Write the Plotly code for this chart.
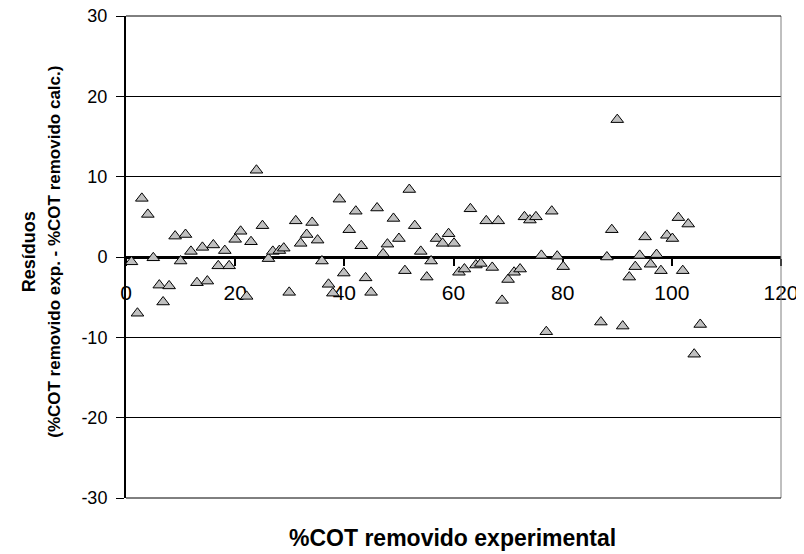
import plotly.graph_objects as go

# %COT removido experimental (x) and residuals (y)
cot_exp = [1.0, 2.1, 2.9, 4.0, 5.0, 6.1, 6.8, 7.9, 9.0, 10.0,
           10.9, 11.9, 13.0, 14.0, 14.9, 16.0, 16.9, 18.1, 18.9, 20.0,
           21.0, 22.1, 22.9, 23.9, 25.0, 26.1, 26.9, 28.1, 28.9, 29.9,
           31.1, 32.0, 33.1, 34.1, 35.1, 35.9, 37.1, 37.9, 39.1, 39.9,
           40.9, 42.1, 43.1, 43.9, 44.9, 46.0, 47.1, 47.9, 49.0, 50.0,
           51.1, 51.9, 52.9, 54.0, 55.1, 55.9, 56.9, 58.0, 59.1, 60.1,
           61.0, 62.0, 63.1, 64.1, 65.0, 66.0, 67.1, 68.2, 68.9, 70.0,
           71.1, 72.2, 73.0, 74.0, 75.1, 76.1, 77.0, 78.0, 79.0, 80.1,
           87.0, 88.1, 89.0, 90.0, 91.0, 92.2, 93.3, 94.1, 95.1, 96.1,
           97.2, 98.0, 99.1, 100.1, 101.2, 102.0, 103.0, 104.1, 105.2]
residuos = [-0.6, -7.0, 7.3, 5.3, -0.1, -3.5, -5.6, -3.6, 2.6, -0.5,
            2.8, 0.7, -3.2, 1.2, -3.0, 1.5, -1.1, 0.8, -1.1, 2.2,
            3.2, -4.9, 1.9, 10.8, 3.9, -0.2, 0.7, 0.8, 1.1, -4.4,
            4.5, 1.7, 2.8, 4.3, 2.1, -0.5, -3.4, -4.5, 7.2, -2.0,
            3.4, 5.7, 1.4, -2.6, -4.4, 6.1, 0.4, 1.6, 4.8, 2.3,
            -1.7, 8.4, 3.9, 0.7, -2.5, -0.5, 2.3, 1.7, 2.9, 1.7,
            -1.9, -1.5, 6.0, -1.0, -0.8, 4.5, -1.3, 4.5, -5.4, -2.8,
            -1.9, -1.5, 5.0, 4.6, 5.0, 0.2, -9.3, 5.7, 0.1, -1.2,
            -8.1, 0.0, 3.4, 17.1, -8.6, -2.5, -1.2, 0.2, 2.5, -0.9,
            0.3, -1.7, 2.7, 2.3, 4.9, -1.7, 4.1, -12.1, -8.4]

x_ticks = [0, 20, 40, 60, 80, 100, 120]
y_ticks = [-30, -20, -10, 0, 10, 20, 30]
y_tick_text = ["-30", "-20", "-10", "0", "10", "20", "30"]

font = "Liberation Sans, Arial, sans-serif"

fig = go.Figure()
fig.add_trace(go.Scatter(
    x=cot_exp, y=residuos, mode="markers",
    marker=dict(symbol="triangle-up", size=11, color="#c0c0c0",
                line=dict(color="black", width=1)),
    showlegend=False,
))

# page body has an 8px margin, so the figure is 8px smaller and shifted
fig.update_layout(
    width=796, height=546,
    margin=dict(l=118, r=23, t=8, b=56),
    paper_bgcolor="white", plot_bgcolor="white",
    font=dict(family=font, color="black"),
    xaxis=dict(
        range=[0, 120], tickmode="array", tickvals=x_ticks,
        ticktext=[str(v) for v in x_ticks],
        anchor="free", position=0.5, automargin=False,
        showgrid=False, zeroline=False,
        showline=True, linecolor="black", linewidth=3,
        ticks="outside", ticklen=7, tickwidth=2, tickcolor="black",
        ticklabelstandoff=9, ticklabeloverflow="allow",
        tickfont=dict(size=21, family=font),
        layer="below traces",
    ),
    yaxis=dict(
        range=[-30, 30], tickmode="array", tickvals=y_ticks,
        ticktext=y_tick_text, automargin=False,
        showgrid=True, gridcolor="black", gridwidth=1,
        zeroline=False,
        showline=True, linecolor="black", linewidth=2,
        ticks="outside", ticklen=8, tickwidth=1, tickcolor="black",
        ticklabelstandoff=5, ticklabeloverflow="allow",
        tickfont=dict(size=18, family=font),
        layer="below traces",
    ),
    shapes=[
        dict(type="line", xref="paper", yref="paper", x0=1, x1=1, y0=0, y1=1,
             line=dict(color="#808080", width=1)),
        dict(type="line", xref="paper", yref="paper", x0=0, x1=1, y0=0, y1=0,
             line=dict(color="black", width=1)),
        dict(type="line", xref="paper", yref="paper", x0=0, x1=1, y0=1, y1=1,
             line=dict(color="black", width=1)),
    ],
    annotations=[
        dict(text="<b>Resíduos</b>", xref="paper", yref="paper",
             x=-0.148, y=0.51, textangle=-90, showarrow=False,
             xanchor="center", yanchor="middle",
             font=dict(size=18, family=font)),
        dict(text="<b>(%COT removido exp. - %COT removido calc.)</b>",
             xref="paper", yref="paper", x=-0.109, y=0.51, textangle=-90,
             showarrow=False, xanchor="center", yanchor="middle",
             font=dict(size=17, family=font)),
        dict(text="<b>%COT removido experimental</b>", xref="paper",
             yref="paper", x=0.498, y=-0.083, showarrow=False,
             xanchor="center", yanchor="middle",
             font=dict(size=23, family=font)),
    ],
)

fig.write_html("out.html")
